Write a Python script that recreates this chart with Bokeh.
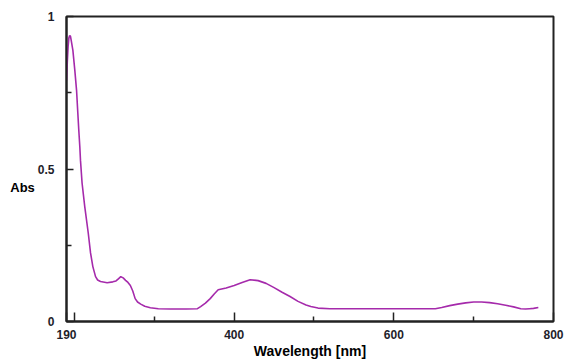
from bokeh.plotting import figure
from bokeh.models import FixedTicker, Range1d
from bokeh.embed import file_html
from bokeh.resources import INLINE

# Spectrum data (wavelength in nm, absorbance)
wavelength = [190, 191, 192, 193, 194, 195, 196, 198, 200.4, 202.6, 204.2, 205.4, 206.7,
              207.5, 209.5, 212.9, 217.2, 220.1, 223, 226.4, 229, 232.6, 240.9, 248,
              252, 255, 258, 261, 264, 267, 270, 273, 276, 279, 283, 288, 295, 305,
              320, 340, 354, 358, 364, 370, 375, 380, 390, 400, 410, 420, 430, 440,
              450, 460, 470, 480, 490, 496, 505, 520, 550, 600, 630, 652, 660, 670,
              680, 690, 700, 710, 720, 730, 740, 750, 759, 765, 770, 775, 781]
absorbance = [0.79, 0.85, 0.90, 0.93, 0.938, 0.935, 0.92, 0.889, 0.824, 0.758, 0.683,
              0.627, 0.572, 0.529, 0.454, 0.376, 0.291, 0.225, 0.18, 0.147, 0.136,
              0.131, 0.127, 0.13, 0.133, 0.14, 0.147, 0.143, 0.135, 0.128, 0.118,
              0.10, 0.075, 0.064, 0.057, 0.05, 0.045, 0.042, 0.041, 0.041, 0.042,
              0.049, 0.06, 0.075, 0.09, 0.104, 0.11, 0.118, 0.128, 0.137, 0.134,
              0.125, 0.111, 0.096, 0.082, 0.066, 0.054, 0.049, 0.044, 0.042, 0.042,
              0.042, 0.042, 0.042, 0.046, 0.052, 0.057, 0.061, 0.064, 0.064, 0.062,
              0.058, 0.053, 0.048, 0.042, 0.041, 0.042, 0.043, 0.046]

x_major = [190, 200, 400, 600, 800]
x_minor = [300, 500, 700]
x_labels = {190: "190", 200: "", 400: "400", 600: "600", 800: "800"}
y_major = [0, 0.5, 1]
y_minor = [0.25, 0.75]
y_labels = {0: "0", 0.5: "0.5", 1: "1"}

p = figure(width=564, height=361, output_backend="svg", toolbar_location=None,
           x_range=Range1d(190, 800), y_range=Range1d(0, 1),
           min_border_left=66, min_border_right=11, min_border_top=16,
           min_border_bottom=37)
p.background_fill_color = "white"
p.border_fill_color = "white"
p.outline_line_color = "#222222"
p.outline_line_width = 2
p.xgrid.visible = False
p.ygrid.visible = False

p.line(wavelength, absorbance, line_color="#a52aab", line_width=1.6)

TICK_FONT = "Liberation Sans"

xa = p.xaxis[0]
xa.ticker = FixedTicker(ticks=x_major, minor_ticks=x_minor)
xa.major_label_overrides = x_labels
xa.major_tick_in = 9
xa.major_tick_out = 0
xa.minor_tick_in = 5
xa.minor_tick_out = 0
xa.axis_line_width = 2
xa.axis_line_color = "#222222"
xa.major_tick_line_color = "#222222"
xa.minor_tick_line_color = "#222222"
xa.major_tick_line_width = 1.5
xa.minor_tick_line_width = 1.5
xa.major_label_text_font = TICK_FONT
xa.major_label_text_font_size = "12px"
xa.major_label_text_font_style = "bold"
xa.major_label_text_color = "#1e1e2a"
xa.major_label_standoff = 8
xa.axis_label = "Wavelength [nm]"
xa.axis_label_text_font = TICK_FONT
xa.axis_label_text_font_size = "14px"
xa.axis_label_text_font_style = "bold"
xa.axis_label_text_color = "#000000"
xa.axis_label_standoff = 1

ya = p.yaxis[0]
ya.ticker = FixedTicker(ticks=y_major, minor_ticks=y_minor)
ya.major_label_overrides = y_labels
ya.major_tick_in = 7
ya.major_tick_out = 0
ya.minor_tick_in = 5
ya.minor_tick_out = 0
ya.axis_line_width = 2
ya.axis_line_color = "#222222"
ya.major_tick_line_color = "#222222"
ya.minor_tick_line_color = "#222222"
ya.major_tick_line_width = 1.5
ya.minor_tick_line_width = 1.5
ya.major_label_text_font = TICK_FONT
ya.major_label_text_font_size = "12px"
ya.major_label_text_font_style = "bold"
ya.major_label_text_color = "#1e1e2a"
ya.major_label_standoff = 12
# horizontal axis label, pushed below the frame's middle with leading blank lines
ya.axis_label = "\n\nAbs"
ya.axis_label_orientation = "horizontal"
ya.axis_label_text_font = TICK_FONT
ya.axis_label_text_font_size = "13px"
ya.axis_label_text_font_style = "bold"
ya.axis_label_text_color = "#000000"
ya.axis_label_standoff = 0

open("out.html", "w").write(file_html(p, INLINE))
